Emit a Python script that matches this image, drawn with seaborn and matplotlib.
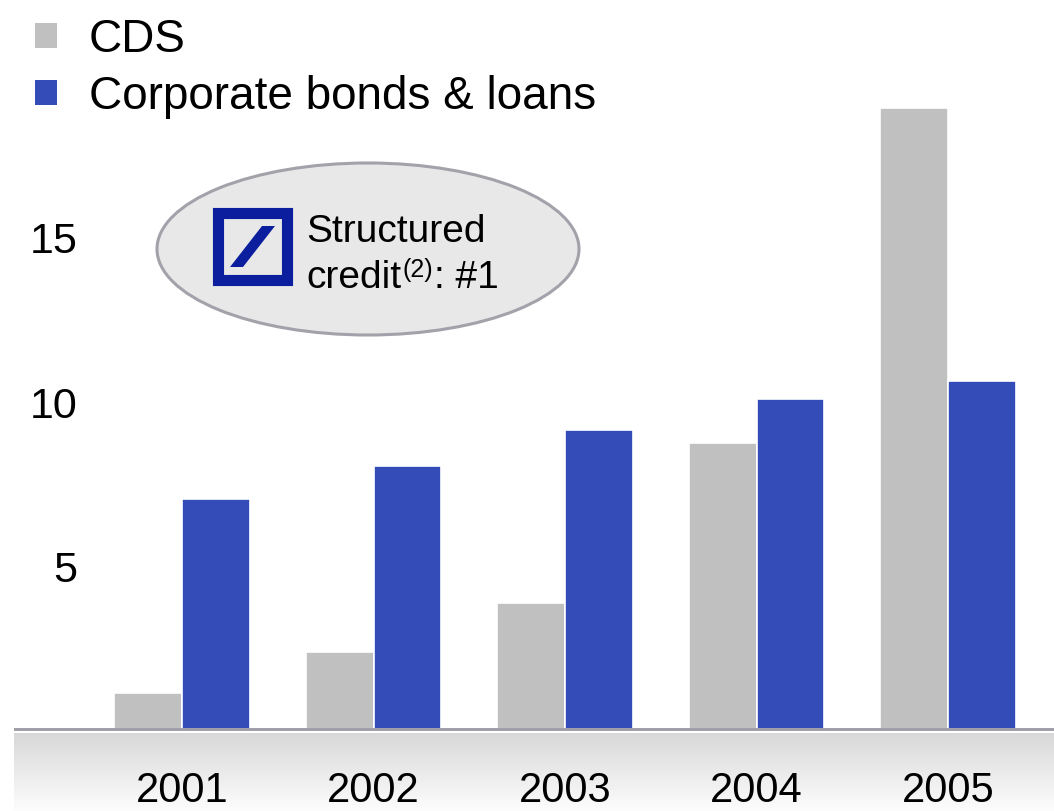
import numpy as np
import pandas as pd
import matplotlib
matplotlib.use("Agg")
import matplotlib.pyplot as plt
from matplotlib.patches import Ellipse, Rectangle, Polygon, Patch
import seaborn as sns

# Data
years = ["2001", "2002", "2003", "2004", "2005"]
cds = [1.15, 2.4, 3.9, 8.75, 18.95]
corporate = [7.05, 8.05, 9.15, 10.1, 10.65]
series_names = ["CDS", "Corporate bonds & loans"]
y_ticks = [5, 10, 15]

colors = {"CDS": "#c0c0c0", "Corporate bonds & loans": "#334cb8"}

df = pd.DataFrame({
    "year": years * 2,
    "value": cds + corporate,
    "series": [series_names[0]] * len(years) + [series_names[1]] * len(years),
})

sns.set_theme(style="white")
plt.rcParams["font.family"] = ["Liberation Sans", "DejaVu Sans"]
plt.rcParams["text.color"] = "black"
plt.rcParams["xtick.color"] = "black"
plt.rcParams["ytick.color"] = "black"

W, H = 1054, 811
fig = plt.figure(figsize=(W / 100, H / 100), dpi=100)

# Shaded strip under the baseline
band = fig.add_axes([14 / W, 0, 1 - 14 / W, (H - 733) / H], zorder=0)
grad = np.linspace(0, 1, 256).reshape(-1, 1)
band.imshow(grad, aspect="auto", cmap=matplotlib.colors.LinearSegmentedColormap.from_list(
    "strip", ["#d8d8d8", "#fdfdfd"]), extent=[0, 1, 0, 1], origin="upper")
band.set_axis_off()

# Main bar axes
zero_px = 731
px_per_unit = 32.9
ax = fig.add_axes([14 / W, (H - zero_px) / H, 1 - 14 / W, zero_px / H], zorder=2)
ax.set_facecolor("none")
sns.barplot(data=df, x="year", y="value", hue="series", hue_order=series_names,
            palette=colors, width=0.71, edgecolor="white", linewidth=1.2,
            saturation=1, ax=ax)
ax.set_ylim(0, zero_px / px_per_unit)
x0 = -(182 - 14) / 191.5
ax.set_xlim(x0, x0 + (W - 14) / 191.5)
ax.axhline(0, color="#a0a0a8", lw=4.3, zorder=5)
for s in ax.spines.values():
    s.set_visible(False)
ax.set_xlabel("")
ax.set_ylabel("")
ax.set_yticks(y_ticks)
ax.set_yticklabels([str(t) for t in y_ticks])
ax.tick_params(axis="y", length=0, pad=-45.5, labelsize=31, labelcolor="black")
for lab in ax.get_yticklabels():
    lab.set_horizontalalignment("right")
ax.tick_params(axis="x", length=0, pad=29, labelsize=30, labelcolor="black")

handles = [Patch(facecolor=colors[n], edgecolor="none") for n in series_names]
ax.get_legend().remove()
fig.legend(handles, series_names, loc="upper left",
           bbox_to_anchor=(35 / W, 1 - 18 / H), frameon=False, fontsize=33,
           handlelength=0.48, handleheight=0.48, handletextpad=0.7,
           labelspacing=0.28, borderpad=0, borderaxespad=0)

# Callout with logo
ov = fig.add_axes([0, 0, 1, 1], zorder=3)
ov.set_xlim(0, W)
ov.set_ylim(H, 0)
ov.set_axis_off()
ov.add_patch(Ellipse((368, 249), 422, 172, facecolor="#e8e8e8",
                     edgecolor="#a2a2aa", lw=2.2))
db_blue = "#0a1e9e"
ov.add_patch(Rectangle((217.5, 212.5), 69, 67, facecolor="none", edgecolor=db_blue,
                       lw=8, joinstyle="miter"))
ov.add_patch(Polygon([(230, 267), (243, 267), (275, 226), (262, 226)],
                     closed=True, facecolor=db_blue, edgecolor="none"))
ov.text(306, 242, "Structured", fontsize=28, va="baseline", ha="left")

renderer = fig.canvas.get_renderer()
t1 = ov.text(306, 288, "credit", fontsize=28, va="baseline", ha="left")
x_end = t1.get_window_extent(renderer).x1
t2 = ov.annotate("(2)", xy=(x_end, H - 288), xycoords="figure pixels",
                 xytext=(1, 11), textcoords="offset pixels",
                 fontsize=18, va="baseline", ha="left")
x_end2 = t2.get_window_extent(renderer).x1
ov.annotate(": #1", xy=(x_end2, H - 288), xycoords="figure pixels",
            xytext=(1, 0), textcoords="offset pixels",
            fontsize=28, va="baseline", ha="left")

fig.savefig("out.png", dpi=100)
